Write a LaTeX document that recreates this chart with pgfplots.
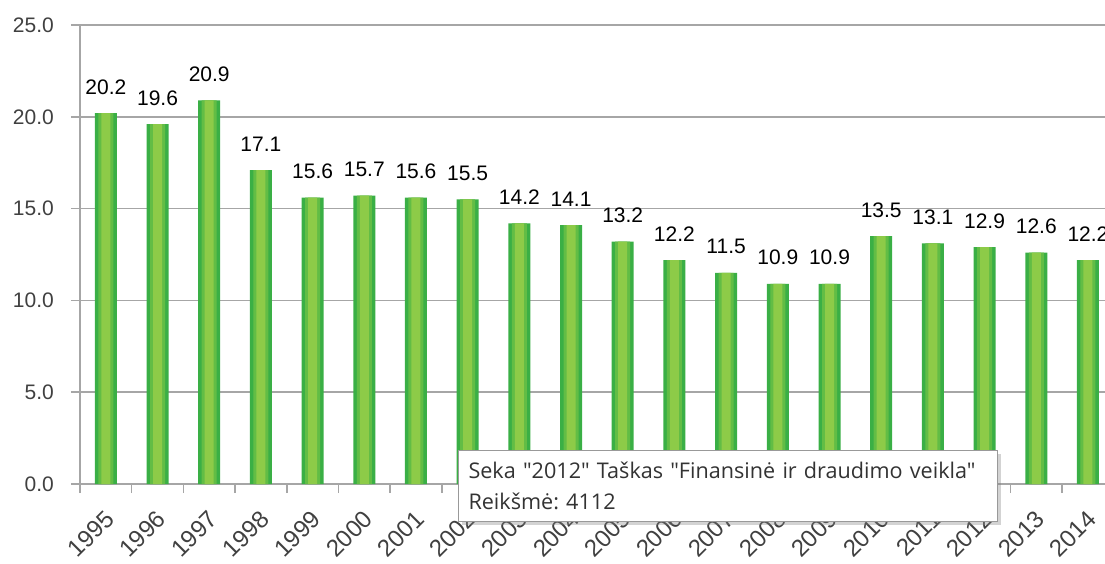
\documentclass[border=0pt]{standalone}
\usepackage{pgfplots}
\pgfplotsset{compat=1.18}
\usepackage{fontspec}
\setmainfont{Liberation Sans}
\newfontfamily\tipfont{Open Sans}
\usetikzlibrary{shadows}
\definecolor{gdark}{HTML}{3AAF45}
\definecolor{gmid}{HTML}{62BD45}
\definecolor{glight}{HTML}{8DCB48}
\definecolor{gridc}{HTML}{A6A6A6}
\definecolor{txt}{HTML}{404040}
\pgfplotstableread{
x y
0 20.2
1 19.6
2 20.9
3 17.1
4 15.6
5 15.7
6 15.6
7 15.5
8 14.2
9 14.1
10 13.2
11 12.2
12 11.5
13 10.9
14 10.9
15 13.5
16 13.1
17 12.9
18 12.6
19 12.2
}\datatable
\begin{document}
\begin{tikzpicture}
\useasboundingbox (0,0) rectangle (1105pt,563pt);
\begin{axis}[
  at={(80pt,79pt)}, anchor=south west,
  scale only axis, width=1025pt, height=459pt,
  xmin=-0.5, xmax=19.33, ymin=0, ymax=25,
  axis lines=left, axis line style={-, gridc, line width=1.5pt},
  ytick={0,5,...,25},
  ymajorgrids, grid style={gridc, line width=1.5pt},
  tick align=outside, major tick length=9pt,
  tick style={gridc, line width=1.5pt},
  xtick={-0.5,0.5,...,18.5}, xticklabels={},
  extra x ticks={0,...,19},
  extra x tick labels={1995,1996,1997,1998,1999,2000,2001,2002,2003,2004,2005,2006,2007,2008,2009,2010,2011,2012,2013,2014},
  extra x tick style={major tick length=0pt, grid=none},
  xticklabel style={anchor=east, inner sep=0pt, xshift=4pt, yshift=-31pt, rotate=45, font=\fontsize{24}{28}\selectfont},
  yticklabel style={inner sep=0pt, xshift=-17pt, font=\fontsize{21}{25}\selectfont},
  ticklabel style={text=txt},
  /pgf/number format/assume math mode=true,
  /pgf/number format/fixed, /pgf/number format/fixed zerofill, /pgf/number format/precision=1,
  ybar,
  every node near coord/.append style={font=\fontsize{21}{25}\selectfont, text=black, anchor=base, inner sep=0pt, yshift=19pt},
  clip=false,
]
\addplot[bar width=22pt, bar shift=0pt, fill=gdark, draw=none] table[x=x,y=y] {\datatable};
\addplot[bar width=15pt, bar shift=0pt, fill=gmid, draw=none] table[x=x,y=y] {\datatable};
\addplot[bar width=9pt, bar shift=0pt, fill=glight, draw=none, nodes near coords] table[x=x,y=y] {\datatable};
\end{axis}
\node[draw=gray!80, fill=white, line width=1pt,
  drop shadow={opacity=0.35, shadow xshift=3pt, shadow yshift=-3pt},
  anchor=north west, minimum width=539pt, minimum height=71pt,
  align=left, inner xsep=10pt, inner ysep=4pt, text=black!80,
  font=\tipfont\fontsize{21.6}{31}\selectfont, text width=519pt]
  at (458pt,113pt) {\frenchspacing Seka "2012" Taškas "Finansinė ir draudimo veikla"\\Reikšmė: 4112};
\end{tikzpicture}
\end{document}
